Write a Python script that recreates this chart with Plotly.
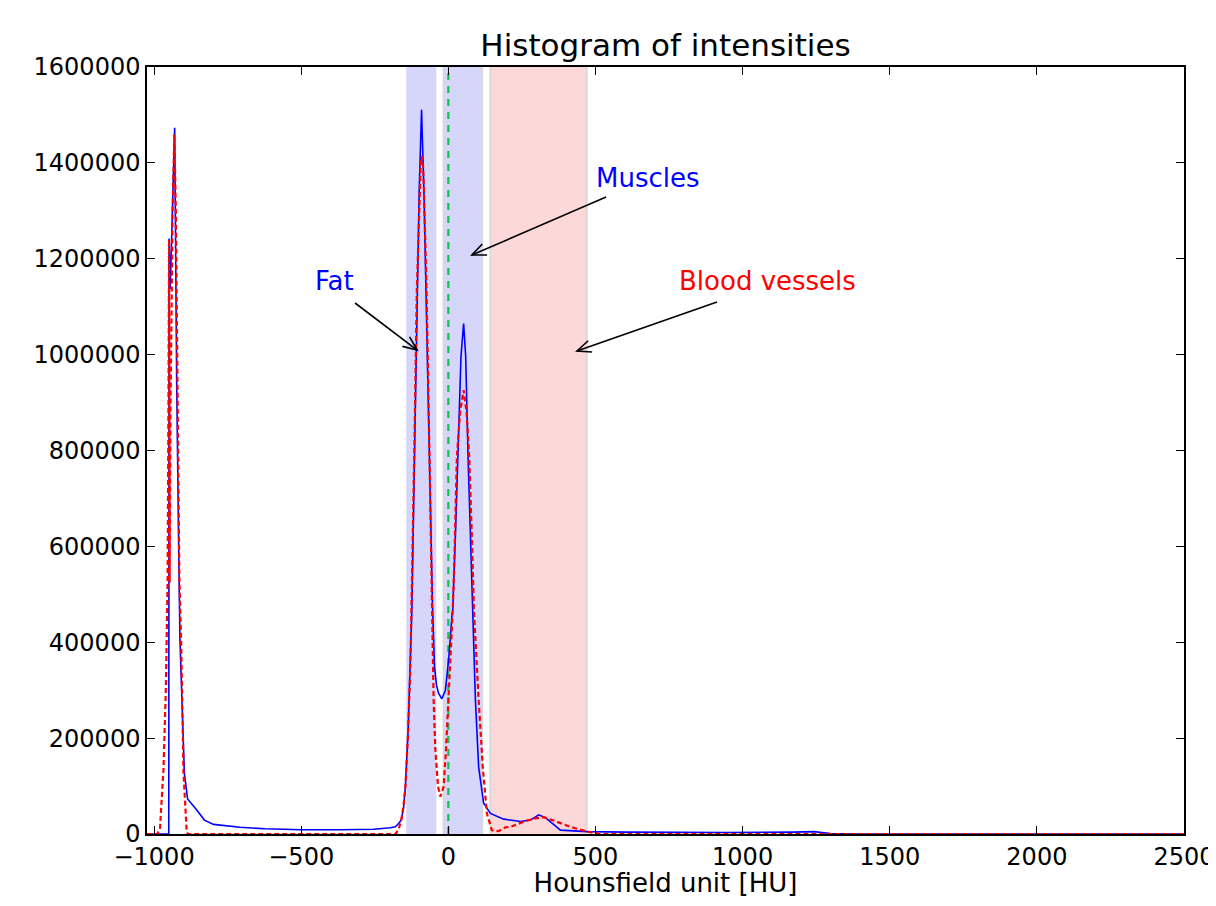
import plotly.graph_objects as go

# ---- data ----
blue_x = [-1024, -950, -949, -945, -930, -923, -915, -912, -897, -886, -855, -829, -798,
          -708, -623, -500, -367, -254, -197, -180, -169, -160, -152, -146, -137, -129,
          -124, -115, -106, -99, -94, -91, -88, -83, -76, -65, -54, -47, -40, -33, -22,
          -10, 1, 12, 15, 25, 33, 43, 52, 59, 67, 75, 82, 92, 103, 120, 143, 188, 245,
          279, 307, 330, 381, 472, 607, 948, 1174, 1242, 1299, 1390, 2500]
blue_y = [0, 0, 1242000, 1137000, 1473000, 933000, 534000, 405000, 127000, 73000, 50000,
          29000, 20000, 14000, 11000, 9000, 9000, 10000, 13000, 15000, 22000, 29000, 55000,
          99000, 210000, 349000, 467000, 787000, 1135000, 1343000, 1447000, 1511000,
          1447000, 1343000, 1135000, 787000, 480000, 349000, 310000, 293000, 282000,
          300000, 363000, 453000, 467000, 640000, 787000, 996000, 1065000, 996000, 787000,
          620000, 467000, 280000, 140000, 64000, 43000, 31000, 26000, 29000, 40000, 34000,
          8000, 5000, 4000, 3000, 4000, 5000, 1000, 0, 0]

red_x = [-1024, -990, -980, -968, -960, -954, -951, -949, -947, -944, -937, -931, -926,
         -921, -914, -908, -900, -889, -885, -180, -170, -160, -152, -146, -137, -129,
         -125, -116, -107, -98, -94, -90, -86, -83, -74, -64, -54, -50, -44, -35, -27,
         -16, -8, 1, 12, 15, 20, 29, 40, 52, 62, 71, 80, 87, 103, 117, 131, 148, 171,
         194, 211, 267, 300, 324, 358, 415, 472, 517, 2500]
red_y = [0, 0, 10000, 135000, 300000, 524000, 900000, 1240000, 524000, 900000, 1300000,
         1460000, 1300000, 933000, 534000, 405000, 127000, 5000, 0, 0, 8000, 29000, 60000,
         99000, 210000, 349000, 467000, 787000, 1135000, 1343000, 1395000, 1414000,
         1395000, 1343000, 1135000, 787000, 467000, 280000, 175000, 99000, 78000, 99000,
         175000, 280000, 419000, 467000, 560000, 787000, 880000, 926000, 880000, 787000,
         620000, 467000, 280000, 140000, 43000, 8000, 6000, 14000, 15000, 28000, 33000,
         35000, 28000, 15000, 5000, 0, 0]

# tissue ranges (HU)
fat_range = [-143, -41]
muscle_range = [-16, 115]
vessel_range = [143, 470]
threshold_hu = 0

# annotation labels: (text, text position, arrow tail, arrow head) in data units
labels = ["Fat", "Muscles", "Blood vessels"]
label_xy = [(-388, 1153600), (678, 1368400), (1086, 1153600)]
arrow_tail = [(-317, 1107700), (536, 1328800), (913, 1109800)]
arrow_head = [(-106, 1009600), (80, 1207800), (437, 1007500)]

x_ticks = [-1000, -500, 0, 500, 1000, 1500, 2000, 2500]
y_ticks = [0, 200000, 400000, 600000, 800000, 1000000, 1200000, 1400000, 1600000]

X_RANGE = [-1024, 2500]
Y_RANGE = [0, 1600000]

FONT = "DejaVu Sans"
W, H = 1208, 890
ML, MR, MT, MB = 139, 32, 59, 64
PW, PH = W - ML - MR, H - MT - MB

# pixel/data conversion helpers (for drawing open arrowheads)
sx = PW / (X_RANGE[1] - X_RANGE[0])
sy = PH / (Y_RANGE[1] - Y_RANGE[0])


def to_px(x, y):
    return (x - X_RANGE[0]) * sx, (y - Y_RANGE[0]) * sy


def to_data(px, py):
    return px / sx + X_RANGE[0], py / sy + Y_RANGE[0]


fig = go.Figure()
fig.add_trace(go.Scatter(x=blue_x, y=blue_y, mode="lines",
                         line=dict(color="#0000ff", width=1.6), showlegend=False))
fig.add_trace(go.Scatter(x=red_x, y=red_y, mode="lines",
                         line=dict(color="#ff0000", width=2.2, dash="5px,3px"),
                         showlegend=False))

# shaded spans
fig.add_vrect(x0=fat_range[0], x1=fat_range[1], fillcolor="#d6d6fa", line_width=0,
              layer="below")
fig.add_vrect(x0=muscle_range[0], x1=muscle_range[1], fillcolor="#d6d6fa", line_width=0,
              layer="below")
fig.add_vrect(x0=vessel_range[0], x1=vessel_range[1], fillcolor="#fdd8d8", line_width=0,
              layer="below")
for xv in [muscle_range[0], muscle_range[1], vessel_range[0], vessel_range[1]]:
    fig.add_vline(x=xv, line=dict(color="#d8d8d8", width=2), layer="below")
fig.add_vline(x=threshold_hu, line=dict(color="#12c24e", width=2.2, dash="7px,6px"),
              layer="below")

# annotation text + open arrows
colors = ["#0000ff", "#0000ff", "#ff0000"]
HEAD_LEN, HEAD_W = 14, 6
for txt, (lx, ly), (tx, ty), (hx, hy), c in zip(labels, label_xy, arrow_tail, arrow_head, colors):
    fig.add_annotation(x=lx, y=ly, text=txt, showarrow=False,
                       font=dict(family=FONT, size=26, color=c))
    fig.add_shape(type="line", x0=tx, y0=ty, x1=hx, y1=hy,
                  line=dict(color="black", width=1.6))
    tpx, tpy = to_px(tx, ty)
    hpx, hpy = to_px(hx, hy)
    dx, dy = hpx - tpx, hpy - tpy
    n = (dx * dx + dy * dy) ** 0.5
    ux, uy = dx / n, dy / n
    bx, by = hpx - HEAD_LEN * ux, hpy - HEAD_LEN * uy
    w1 = to_data(bx - HEAD_W * uy, by + HEAD_W * ux)
    w2 = to_data(bx + HEAD_W * uy, by - HEAD_W * ux)
    path = f"M {w1[0]},{w1[1]} L {hx},{hy} L {w2[0]},{w2[1]}"
    fig.add_shape(type="path", path=path, line=dict(color="black", width=1.6))

axis_common = dict(showline=True, linecolor="black", linewidth=1.5, mirror="ticks",
                   ticks="inside", ticklen=8, tickwidth=1, tickcolor="black",
                   showgrid=False, zeroline=False, automargin=False,
                   ticklabeloverflow="allow",
                   tickfont=dict(family=FONT, size=24, color="black"))

fig.update_xaxes(range=X_RANGE, tickvals=x_ticks, **axis_common,
                 title=dict(text="Hounsfield unit [HU]",
                            font=dict(family=FONT, size=26, color="black"),
                            standoff=7))
fig.update_yaxes(range=Y_RANGE, tickvals=y_ticks, tickformat="d", **axis_common)

fig.update_layout(
    width=W, height=H,
    margin=dict(l=ML, r=MR, t=MT, b=MB, autoexpand=False),
    paper_bgcolor="white", plot_bgcolor="white",
    title=dict(text="Histogram of intensities", x=(ML + PW / 2) / W, xanchor="center",
               y=1 - 37 / H, yanchor="middle",
               font=dict(family=FONT, size=31, color="black")),
    font=dict(family=FONT),
)

fig.write_html("out.html")
